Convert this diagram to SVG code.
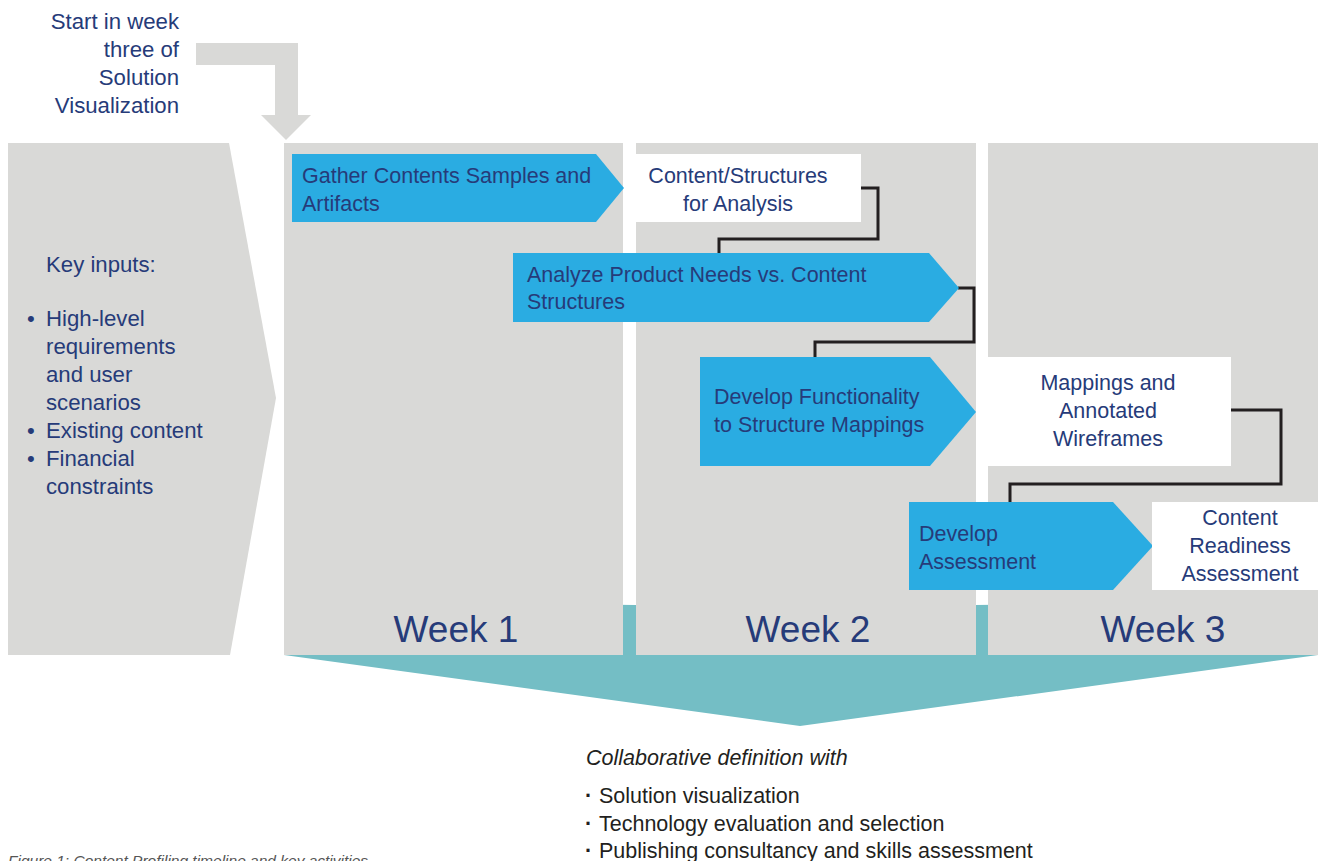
<svg xmlns="http://www.w3.org/2000/svg" width="1318" height="861" viewBox="0 0 1318 861">
<style>
.t{font-family:"Liberation Sans",Arial,sans-serif;fill:#263b79;font-size:21.5px}
.k{font-size:22.2px}
.c{text-anchor:middle}
.wk{font-family:"Liberation Sans",Arial,sans-serif;fill:#263b79;font-size:37px;text-anchor:middle}
.gray{fill:#d9d9d7}
.blue{fill:#2aace2}
.box{fill:#ffffff}
.conn{fill:none;stroke:#231f20;stroke-width:3;stroke-linejoin:miter}
.b{font-family:"Liberation Sans",Arial,sans-serif;fill:#231f20;font-size:21.5px}
</style>
<rect width="1318" height="861" fill="#ffffff"/>
<g id="teal-arrow"><polygon points="284,601 800,607 1318,601 1318,655 800,726 284,655" fill="#74bec5"/></g>
<g id="week1"><rect class="gray" x="284" y="143" width="339" height="512"/><text class="wk" x="456" y="642">Week 1</text></g>
<g id="week2"><rect class="gray" x="636" y="143" width="340" height="512"/><text class="wk" x="808" y="642">Week 2</text></g>
<g id="week3"><rect class="gray" x="988" y="143" width="330" height="512"/><text class="wk" x="1163" y="642">Week 3</text></g>
<g id="key-inputs">
<polygon class="gray" points="8,143 229,143 276,398 230,655 8,655"/>
<text class="t k" x="46" y="272">Key inputs:</text>
<text class="t k" x="27" y="326">•</text><text class="t k" x="46" y="326">High-level</text>
<text class="t k" x="46" y="354">requirements</text>
<text class="t k" x="46" y="382">and user</text>
<text class="t k" x="46" y="410">scenarios</text>
<text class="t k" x="27" y="438">•</text><text class="t k" x="46" y="438">Existing content</text>
<text class="t k" x="27" y="466">•</text><text class="t k" x="46" y="466">Financial</text>
<text class="t k" x="46" y="494">constraints</text>
</g>
<g id="start">
<polygon class="gray" points="196,43 298,43 298,115 311,115 286,140 261,115 275,115 275,65 196,65"/>
<text class="t k" text-anchor="end" x="179" y="29">Start in week</text>
<text class="t k" text-anchor="end" x="179" y="57">three of</text>
<text class="t k" text-anchor="end" x="179" y="85">Solution</text>
<text class="t k" text-anchor="end" x="179" y="113">Visualization</text>
</g>
<g id="connectors">
<polyline class="conn" points="860,188 878,188 878,239 719,239 719,255"/>
<polyline class="conn" points="958,288 974,288 974,342 815,342 815,358"/>
<polyline class="conn" points="1230,410 1281,410 1281,484 1010,484 1010,503"/>
</g>
<g id="gather">
<polygon class="blue" points="292,154 596,154 624,188 596,222 292,222"/>
<text class="t" x="302" y="183">Gather Contents Samples and</text>
<text class="t" x="302" y="211">Artifacts</text>
</g>
<g id="content-structures">
<rect class="box" x="636" y="154" width="225" height="68"/>
<text class="t c" x="738" y="183">Content/Structures</text>
<text class="t c" x="738" y="211">for Analysis</text>
</g>
<g id="analyze">
<polygon class="blue" points="513,253 929,253 959,288 929,322 513,322"/>
<text class="t" x="527" y="282">Analyze Product Needs vs. Content</text>
<text class="t" x="527" y="309">Structures</text>
</g>
<g id="develop-functionality">
<polygon class="blue" points="700,357 930,357 976,412 930,466 700,466"/>
<text class="t" x="714" y="404">Develop Functionality</text>
<text class="t" x="714" y="432">to Structure Mappings</text>
</g>
<g id="mappings">
<rect class="box" x="988" y="357" width="243" height="109"/>
<text class="t c" x="1108" y="390">Mappings and</text>
<text class="t c" x="1108" y="418">Annotated</text>
<text class="t c" x="1108" y="446">Wireframes</text>
</g>
<g id="develop-assessment">
<polygon class="blue" points="909,502 1113,502 1153,546 1113,590 909,590"/>
<text class="t" x="919" y="541">Develop</text>
<text class="t" x="919" y="569">Assessment</text>
</g>
<g id="readiness">
<rect class="box" x="1152" y="502" width="166" height="88"/>
<text class="t c" x="1240" y="525">Content</text>
<text class="t c" x="1240" y="553">Readiness</text>
<text class="t c" x="1240" y="581">Assessment</text>
</g>
<g id="collaborative">
<text class="b" x="586" y="765" font-style="italic" font-size="21.3">Collaborative definition with</text>
<text class="b" x="585" y="803" font-weight="bold">·</text><text class="b" x="599" y="803">Solution visualization</text>
<text class="b" x="585" y="831" font-weight="bold">·</text><text class="b" x="599" y="831">Technology evaluation and selection</text>
<text class="b" x="585" y="858" font-weight="bold">·</text><text class="b" x="599" y="858">Publishing consultancy and skills assessment</text>
</g>
<g id="caption"><text x="8" y="866" font-family="Liberation Sans,Arial,sans-serif" font-style="italic" font-size="15.5" fill="#555555">Figure 1: Content Profiling timeline and key activities</text></g>
</svg>
